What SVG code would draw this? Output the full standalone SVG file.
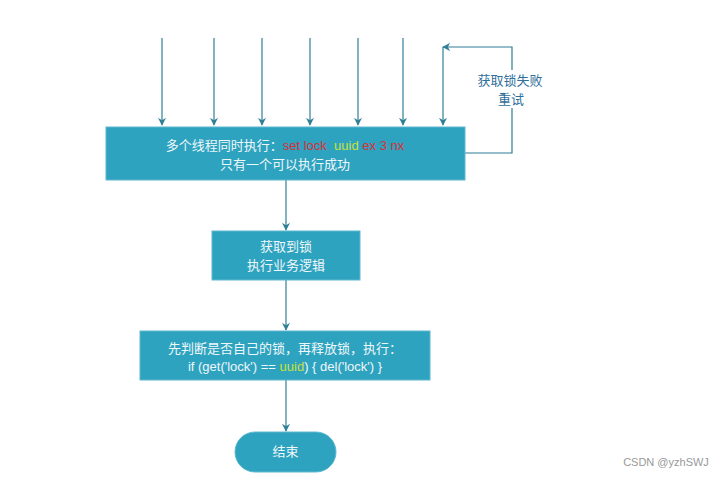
<svg xmlns="http://www.w3.org/2000/svg" width="721" height="478" viewBox="0 0 721 478">
<defs>
<style>
.box{fill:#2ea3bf;stroke:#5fb8cf;stroke-width:1}
.t{font-family:"Liberation Sans","Noto Sans CJK SC",sans-serif;font-size:13px;fill:#eef7fa;text-anchor:middle;white-space:pre}
.red{fill:#d9303a}
.yel{fill:#c9e03c}
.ln{stroke:#2f7f95;stroke-width:1.2;fill:none}
.lbl{font-family:"Liberation Sans","Noto Sans CJK SC",sans-serif;font-size:13px;fill:#2f6f9a;text-anchor:middle}
</style>
<marker id="ah" viewBox="0 0 10 10" refX="9" refY="5" markerWidth="8" markerHeight="8" markerUnits="userSpaceOnUse" orient="auto">
<path d="M0,0 L10,5 L0,10 L3,5 z" fill="#2f7f95"/>
</marker>
</defs>
<rect width="721" height="478" fill="#ffffff"/>
<g id="connectors">
<line class="ln" x1="162" y1="38" x2="162" y2="125" marker-end="url(#ah)"/>
<line class="ln" x1="214" y1="38" x2="214" y2="125" marker-end="url(#ah)"/>
<line class="ln" x1="262" y1="38" x2="262" y2="125" marker-end="url(#ah)"/>
<line class="ln" x1="310" y1="38" x2="310" y2="125" marker-end="url(#ah)"/>
<line class="ln" x1="358" y1="38" x2="358" y2="125" marker-end="url(#ah)"/>
<line class="ln" x1="403" y1="38" x2="403" y2="125" marker-end="url(#ah)"/>
<line class="ln" x1="443" y1="47" x2="443" y2="125" marker-end="url(#ah)"/>
<polyline class="ln" points="465,153 512,153 512,47 443,47" marker-end="url(#ah)"/>
<line class="ln" x1="286" y1="180" x2="286" y2="230" marker-end="url(#ah)"/>
<line class="ln" x1="286" y1="280" x2="286" y2="330" marker-end="url(#ah)"/>
<line class="ln" x1="286" y1="380" x2="286" y2="431" marker-end="url(#ah)"/>
<rect x="473" y="70" width="78" height="38" fill="#ffffff"/>
<text class="lbl" x="510" y="85">获取锁失败</text>
<text class="lbl" x="511" y="104">重试</text>
</g>
<g id="node-threads">
<rect class="box" x="106" y="127" width="359" height="53"/>
<text class="t" x="285" y="150">多个线程同时执行：<tspan class="red">set lock </tspan> <tspan class="yel">uuid</tspan> <tspan class="red">ex 3 nx</tspan></text>
<text class="t" x="285" y="169">只有一个可以执行成功</text>
</g>
<g id="node-business">
<rect class="box" x="212" y="231" width="148" height="49"/>
<text class="t" x="286" y="251">获取到锁</text>
<text class="t" x="286" y="270">执行业务逻辑</text>
</g>
<g id="node-release">
<rect class="box" x="140" y="331" width="290" height="49"/>
<text class="t" x="285" y="353">先判断是否自己的锁，再释放锁，执行：</text>
<text class="t" x="285" y="371">if (get('lock') == <tspan class="yel">uuid</tspan>) { del('lock') }</text>
</g>
<g id="node-end">
<rect class="box" x="235" y="432" width="101" height="40" rx="20" ry="20"/>
<text class="t" x="285.5" y="456">结束</text>
</g>
<text x="666" y="466" font-family="Liberation Sans, sans-serif" font-size="11" fill="#999999" text-anchor="middle">CSDN @yzhSWJ</text>
</svg>
